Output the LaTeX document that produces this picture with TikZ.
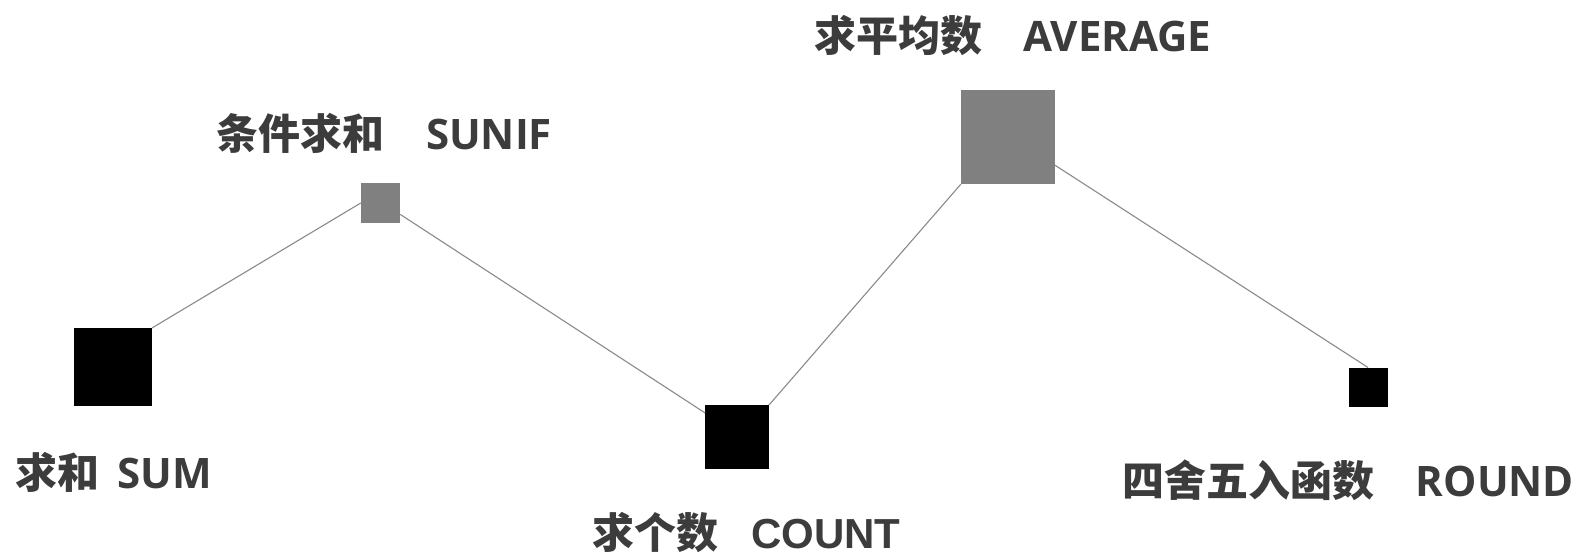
\documentclass[tikz,border=0pt]{standalone}
\usepackage{fontspec}
\setmainfont{Open Sans}[BoldFont={* Bold}]
\newfontfamily\cjkf{Noto Sans CJK SC Bold}
\newfontfamily\arialb{Liberation Sans Bold}
\newcommand{\cjk}[1]{{\fontsize{42}{48}\selectfont\cjkf #1}}
\definecolor{txt}{HTML}{3C3C3C}
\definecolor{mgray}{HTML}{808080}
\definecolor{lgray}{HTML}{8A8A8A}
\begin{document}
\begin{tikzpicture}[x=1pt,y=-1pt,
  sq/.style={rectangle,inner sep=0pt,outer sep=0pt,minimum size=#1},
  lab/.style={text=txt,inner sep=0pt,font=\fontsize{42}{48}\selectfont\bfseries},
  conn/.style={draw=lgray,line width=1.1pt}]
\useasboundingbox (0,0) rectangle (1589,556);
\node[sq=78pt,fill=black] (sum) at (113,367) {};
\node[sq=39.5pt,fill=mgray] (sunif) at (380.5,203) {};
\node[sq=64pt,fill=black] (count) at (737,437) {};
\node[sq=94pt,fill=mgray] (average) at (1008,137) {};
\node[sq=39pt,fill=black] (round) at (1368,387) {};
\draw[conn] (sum.north east) -- (sunif.west);
\draw[conn] (sunif.-30) -- (count.143);
\draw[conn] (count.north east) -- (average.south west);
\draw[conn] (average.-31) -- (round.north);
\node[lab] (lsum) at (114,472) {\cjk{求和}\hspace{18pt}SUM};
\node[lab] (lsunif) at (384,133) {\cjk{条件求和}\hspace{42pt}SUNIF};
\node[lab] (lcount) at (746.5,532.5) {\cjk{求个数}\hspace{33pt}{\arialb COUNT}};
\node[lab] (laverage) at (1013,36) {\cjk{求平均数}\hspace{41pt}AVERAGE};
\node[lab] (lround) at (1348.5,480) {\cjk{四舍五入函数}\hspace{41pt}ROUND};
\end{tikzpicture}
\end{document}
